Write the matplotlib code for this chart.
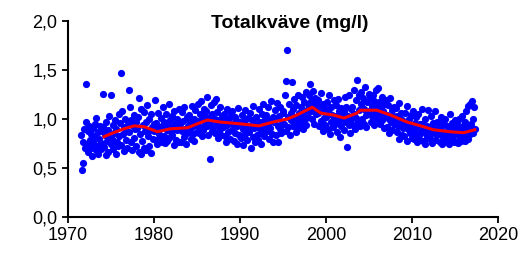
import matplotlib
matplotlib.use("Agg")
import matplotlib.pyplot as plt
from matplotlib.ticker import FuncFormatter

# Totalkväve, månadsvärden (mg/l), juli 1971 - april 2017
first_year = 1971
first_month = 7
tn = [
    0.84, 0.48, 0.55, 0.76, 0.90, 0.70,
    0.97, 1.36, 0.74, 0.88, 0.66, 0.93, 0.79, 0.70, 0.85, 0.62, 0.91, 0.77,
    0.83, 0.95, 0.68, 1.01, 0.72, 0.87, 0.64, 0.80, 0.93, 0.75, 0.69, 0.88,
    0.92, 1.26, 0.71, 0.84, 0.97, 0.63, 0.78, 0.89, 0.66, 1.03, 0.81, 0.74,
    1.25, 0.80, 0.94, 0.69, 0.86, 0.99, 0.64, 0.90, 0.77, 0.72, 1.05, 0.83,
    0.96, 1.47, 0.73, 1.08, 0.85, 0.67, 0.92, 1.00, 0.79, 0.88, 0.70, 0.95,
    1.30, 0.87, 1.12, 0.76, 0.99, 0.68, 0.93, 1.04, 0.81, 0.90, 0.72, 0.97,
    0.91, 1.02, 0.66, 1.21, 0.85, 0.64, 1.10, 0.78, 0.94, 0.70, 1.07, 0.88,
    0.97, 0.68, 1.14, 0.83, 0.72, 1.00, 0.89, 0.65, 1.05, 0.92, 0.80, 0.95,
    0.88, 1.19, 0.79, 0.96, 0.74, 1.06, 0.85, 0.92, 0.80, 1.01, 0.76, 0.93,
    1.12, 0.83, 0.97, 0.75, 1.05, 0.89, 0.78, 0.94, 1.15, 0.81, 0.99, 0.87,
    0.84, 1.03, 0.91, 0.73, 1.08, 0.95, 0.79, 0.89, 1.00, 0.76, 0.92, 1.10,
    0.95, 0.76, 1.07, 0.88, 0.98, 0.82, 1.12, 0.90, 0.74, 1.02, 0.86, 0.93,
    1.04, 0.89, 0.97, 0.80, 1.13, 0.92, 0.85, 1.00, 0.78, 1.09, 0.94, 0.87,
    0.98, 1.15, 0.86, 1.05, 0.92, 1.18, 0.83, 1.00, 0.89, 1.10, 0.95, 1.03,
    1.08, 0.93, 1.22, 0.84, 1.01, 0.59, 0.96, 1.14, 0.88, 1.05, 0.91, 1.17,
    1.00, 0.86, 1.20, 0.95, 1.07, 0.81, 0.99, 1.12, 0.90, 0.84, 1.03, 0.93,
    0.92, 1.05, 0.83, 0.98, 0.77, 1.10, 0.94, 0.87, 1.01, 0.80, 0.96, 1.06,
    0.89, 1.08, 0.95, 0.78, 1.02, 0.86, 0.99, 0.74, 0.93, 1.11, 0.84, 0.97,
    0.96, 0.81, 1.04, 0.90, 0.73, 0.98, 1.09, 0.85, 0.94, 0.79, 1.01, 0.88,
    0.87, 1.06, 0.93, 0.70, 0.99, 0.82, 1.13, 0.91, 0.77, 0.95, 1.02, 0.84,
    0.92, 0.79, 1.10, 0.86, 0.97, 0.74, 1.05, 0.89, 1.15, 0.83, 0.94, 1.00,
    1.04, 0.88, 0.95, 1.12, 0.80, 0.99, 0.91, 1.18, 0.85, 1.02, 0.76, 0.97,
    0.99, 1.09, 0.84, 1.16, 0.93, 0.77, 1.03, 0.90, 1.12, 0.86, 0.96, 1.06,
    1.08, 0.95, 1.25, 0.88, 1.39, 1.70, 1.02, 0.92, 1.15, 0.84, 1.06, 0.99,
    1.38, 1.10, 0.93, 1.20, 1.02, 0.87, 1.14, 0.97, 1.24, 0.91, 1.06, 1.01,
    1.12, 0.96, 1.22, 1.04, 0.90, 1.17, 1.00, 1.28, 0.94, 1.09, 1.02, 1.15,
    1.24, 1.36, 1.08, 1.18, 1.00, 1.29, 1.12, 0.95, 1.21, 1.05, 1.15, 1.10,
    1.06, 1.19, 0.93, 1.12, 1.27, 0.98, 1.08, 0.88, 1.15, 1.01, 0.94, 1.10,
    1.02, 1.17, 0.90, 1.25, 1.06, 0.85, 1.12, 0.97, 1.04, 0.92, 1.19, 1.00,
    0.95, 1.14, 1.03, 0.87, 1.20, 0.98, 1.08, 0.82, 1.11, 0.93, 1.05, 1.01,
    1.07, 0.89, 1.22, 0.97, 1.12, 0.71, 1.03, 0.94, 1.25, 0.86, 1.10, 1.00,
    1.12, 0.94, 1.30, 1.05, 0.90, 1.19, 1.01, 1.40, 0.97, 1.09, 1.24, 0.93,
    1.15, 1.28, 1.00, 1.21, 0.95, 1.10, 1.33, 1.04, 0.92, 1.17, 1.07, 1.26,
    1.08, 1.22, 0.97, 1.13, 1.03, 1.25, 0.94, 1.18, 1.06, 1.30, 1.00, 1.12,
    1.32, 1.05, 1.17, 0.95, 1.10, 1.22, 0.99, 1.08, 0.91, 1.15, 1.03, 1.19,
    1.04, 0.92, 1.14, 1.00, 0.86, 1.21, 0.97, 1.09, 0.89, 1.03, 0.95, 1.12,
    0.98, 1.11, 0.87, 1.03, 0.93, 0.80, 1.16, 0.95, 1.06, 0.84, 0.99, 0.91,
    0.94, 0.83, 1.06, 0.97, 0.78, 1.13, 0.90, 1.00, 0.86, 0.93, 1.04, 0.81,
    0.90, 1.08, 0.80, 0.96, 0.86, 1.02, 0.76, 0.92, 1.05, 0.84, 0.95, 0.79,
    0.87, 0.95, 1.10, 0.78, 0.91, 0.74, 1.00, 0.85, 0.93, 0.81, 1.09, 0.89,
    0.92, 0.80, 1.03, 0.86, 0.75, 0.96, 0.88, 1.08, 0.79, 0.90, 0.84, 0.97,
    0.85, 0.97, 0.77, 0.91, 1.02, 0.74, 0.88, 0.82, 0.95, 0.79, 1.00, 0.86,
    0.80, 0.93, 0.86, 0.74, 1.05, 0.89, 0.78, 0.96, 0.83, 0.91, 0.76, 0.99,
    0.89, 0.77, 0.95, 0.84, 0.75, 1.00, 0.82, 0.90, 0.78, 1.03, 0.86, 0.93,
    0.83, 0.97, 0.78, 1.08, 0.88, 0.80, 1.13, 0.92, 0.85, 1.15, 0.95, 1.18,
    1.00, 0.86, 1.12, 0.90,
]

# glidande medelvärde (röd linje)
trend_x = [1974.2, 1975.0, 1976.5, 1977.7, 1978.9, 1980.4, 1981.9, 1983.9, 1985.0, 1986.2,
           1987.6, 1990.1, 1992.2, 1993.9, 1995.5, 1996.6, 1998.4, 1999.4, 2000.9, 2002.1,
           2003.6, 2004.0, 2005.9, 2007.5, 2009.4, 2011.0, 2012.5, 2014.4, 2016.0, 2017.3]
trend_y = [0.82, 0.85, 0.90, 0.93, 0.92, 0.87, 0.90, 0.91, 0.95, 0.99,
           0.97, 0.95, 0.93, 0.97, 1.00, 1.04, 1.12, 1.06, 1.04, 1.01,
           1.06, 1.09, 1.09, 1.04, 0.97, 0.93, 0.89, 0.87, 0.86, 0.89]

x_ticks = [1970, 1980, 1990, 2000, 2010, 2020]
y_ticks = [0.0, 0.5, 1.0, 1.5, 2.0]

# decimalår för varje månad
dates = []
for i in range(len(tn)):
    m = first_month - 1 + i
    dates.append(first_year + m // 12 + (m % 12 + 0.5) / 12)

plt.rcParams["font.family"] = ["Liberation Sans", "DejaVu Sans"]

fig = plt.figure(figsize=(5.27, 2.54), dpi=100)
ax = fig.add_axes([0.129, 0.146, 0.816, 0.771])

ax.scatter(dates, tn, s=27, color="#0000ff", linewidths=0, zorder=2)
ax.plot(trend_x, trend_y, color="#ff0000", linewidth=2.2, zorder=3)

ax.set_xlim(1970, 2020)
ax.set_ylim(0, 2)
ax.set_xticks(x_ticks)
ax.set_yticks(y_ticks)
ax.yaxis.set_major_formatter(FuncFormatter(lambda v, p: f"{v:.1f}".replace(".", ",")))
ax.tick_params(direction="out", length=4, width=1.3, labelsize=13, colors="black")

for side in ["top", "right"]:
    ax.spines[side].set_visible(False)
for side in ["left", "bottom"]:
    ax.spines[side].set_linewidth(1.5)

ax.text(0.515, 0.99, "Totalkväve (mg/l)", transform=ax.transAxes,
        ha="center", va="center", fontsize=14, fontweight="bold")

fig.savefig("out.png", dpi=100)
